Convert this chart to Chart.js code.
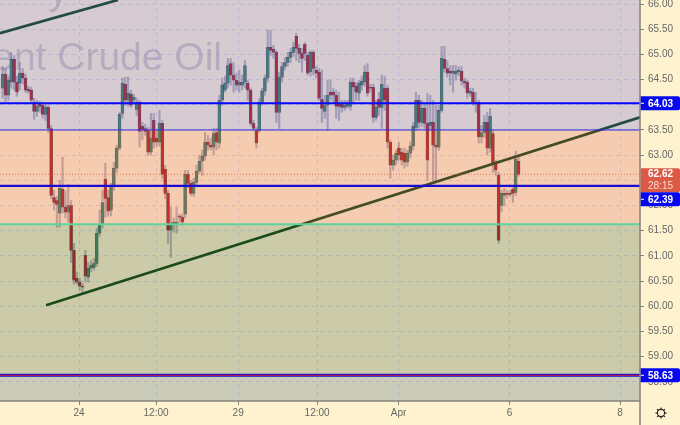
<!DOCTYPE html>
<html><head><meta charset="utf-8">
<style>html,body{margin:0;padding:0;background:#fff3cf;overflow:hidden}canvas{display:block}</style>
<script src="https://cdn.jsdelivr.net/npm/chart.js@4"></script>
</head><body><canvas id="c" width="680" height="425" style="width:680px;height:425px"></canvas>
<script>
const opens=[64.33,64.61,64.19,64.45,64.90,64.45,64.43,64.63,64.53,64.31,64.29,64.05,63.87,64.01,63.99,63.81,63.95,63.53,62.16,62.10,61.85,62.32,61.97,61.87,62.00,61.11,60.56,60.48,60.40,61.01,60.58,60.76,60.77,60.85,61.45,61.63,62.52,62.16,61.91,62.38,62.74,63.14,63.83,64.41,64.09,64.21,64.09,63.91,64.05,63.57,63.53,63.49,63.06,63.69,63.34,63.26,63.63,62.72,62.24,61.51,61.63,61.63,61.79,61.77,61.83,62.62,62.44,62.24,62.46,62.68,62.88,62.98,63.26,63.20,63.16,63.45,63.24,64.09,64.29,64.43,64.82,64.59,64.49,64.39,64.39,64.45,64.43,64.29,63.63,63.49,63.49,64.05,64.27,64.53,65.14,65.10,65.04,63.85,64.55,64.76,64.84,64.94,65.04,65.36,65.12,65.02,65.20,64.98,64.65,65.04,64.69,64.65,64.11,63.87,63.99,64.25,64.25,64.19,64.03,64.01,63.95,63.97,63.97,64.45,64.37,64.23,64.39,64.45,64.65,64.35,64.35,63.75,64.11,63.95,64.33,64.33,63.26,62.80,62.90,63.14,63.06,63.04,62.86,63.04,63.18,63.55,64.09,63.65,63.93,63.63,63.59,63.65,63.20,63.16,63.89,64.90,64.72,64.67,64.63,64.61,64.65,64.67,64.47,64.45,64.23,64.25,64.05,64.05,63.36,63.45,63.65,63.14,63.43,62.84,62.60,62.00,62.20,62.24,62.24,62.32,62.26,62.88];
const highs=[64.76,64.72,64.57,65.04,64.98,64.57,64.84,64.72,64.61,64.37,64.35,64.13,64.09,64.07,64.03,64.03,63.99,63.59,62.30,62.18,62.50,62.96,62.30,62.42,62.10,61.25,60.68,60.56,60.46,61.11,60.87,60.91,60.95,61.55,61.91,62.30,62.84,62.30,62.44,62.86,63.20,63.85,64.53,64.55,64.55,64.29,64.21,64.13,64.09,63.65,63.61,63.55,63.83,63.83,63.49,63.89,63.69,62.80,62.30,61.97,61.75,61.97,61.83,61.83,62.70,62.70,62.50,62.54,62.80,63.00,63.10,63.45,63.39,63.34,63.53,63.53,64.19,64.53,64.57,64.92,64.92,64.84,64.63,64.69,64.59,64.88,64.49,64.33,63.69,63.55,64.13,64.33,64.59,65.48,65.48,65.18,65.08,64.65,64.84,64.94,65.04,65.12,65.24,65.42,65.20,65.12,65.24,65.04,65.08,65.08,64.76,64.72,64.69,64.19,64.49,64.49,64.33,64.29,64.25,64.09,64.09,64.09,64.53,64.53,64.45,64.49,64.57,64.78,64.82,64.41,64.41,64.09,64.25,64.59,64.57,64.39,63.30,63.00,63.10,63.26,63.14,63.14,63.10,63.26,63.65,64.25,64.19,64.09,64.01,64.23,64.19,64.09,63.99,63.99,65.16,65.16,64.88,64.78,64.78,64.78,64.76,64.76,64.53,64.49,64.33,64.33,64.25,64.09,63.59,63.79,63.85,63.93,63.49,62.90,62.66,62.30,62.34,62.30,62.30,62.40,63.08,62.98];
const lows=[64.13,64.05,64.09,64.33,64.29,64.17,64.29,64.41,64.25,64.23,64.05,63.71,63.77,63.85,63.73,63.69,63.45,62.14,61.91,61.57,61.57,61.85,61.75,61.67,60.87,60.44,60.44,60.32,60.26,60.48,60.48,60.68,60.72,60.79,61.39,61.55,61.77,61.79,61.79,62.30,62.66,63.10,63.73,63.99,63.97,63.95,64.01,63.79,63.16,63.30,63.39,63.00,63.00,63.14,63.18,63.18,62.54,62.14,61.25,60.97,61.47,61.45,61.67,61.61,61.75,62.36,62.20,62.18,62.40,62.64,62.60,62.90,63.10,63.10,63.00,63.10,63.14,63.99,64.25,64.33,64.39,64.25,64.29,64.25,64.29,64.33,64.09,63.59,63.49,63.14,63.45,63.99,64.19,64.45,64.98,64.92,63.65,63.53,64.45,64.69,64.76,64.84,64.96,64.88,64.84,64.65,64.88,64.59,64.57,64.59,64.53,64.09,63.65,63.73,63.49,64.09,64.05,63.73,63.69,63.85,63.89,63.93,63.89,64.05,64.09,64.09,64.29,64.37,64.17,64.25,63.65,63.69,63.79,63.53,63.89,63.14,62.54,62.70,62.80,62.90,62.80,62.74,62.78,62.94,63.10,63.49,63.53,63.57,63.53,62.50,63.49,62.50,62.50,63.10,63.85,64.65,64.55,64.39,64.25,64.49,64.57,64.39,64.33,64.13,64.17,63.99,63.85,63.24,63.24,63.34,63.00,63.06,62.66,62.60,61.25,61.87,62.00,62.14,62.18,62.06,62.20,62.58];
const closes=[64.61,64.19,64.49,64.90,64.45,64.25,64.63,64.53,64.29,64.27,64.09,63.87,63.97,63.97,63.81,63.95,63.53,62.20,62.06,62.02,62.34,61.97,61.87,62.00,61.11,60.52,60.48,60.40,60.38,60.60,60.76,60.81,60.85,61.45,61.63,62.06,62.14,61.89,62.38,62.74,63.14,63.81,64.43,64.09,64.23,63.99,64.15,64.05,63.47,63.51,63.47,63.06,63.34,63.26,63.26,63.63,62.62,62.24,61.51,61.65,61.67,61.67,61.77,61.67,62.62,62.44,62.24,62.46,62.68,62.88,62.98,63.26,63.20,63.16,63.43,63.26,64.09,64.39,64.43,64.78,64.59,64.49,64.39,64.45,64.45,64.78,64.29,63.63,63.53,63.24,64.05,64.27,64.53,65.14,65.08,65.04,63.85,64.55,64.76,64.84,64.94,65.04,65.14,65.12,65.02,64.92,65.02,64.63,65.04,64.72,64.63,64.13,63.93,63.99,64.19,64.19,64.19,63.97,63.97,63.95,63.99,64.01,64.45,64.35,64.25,64.43,64.47,64.65,64.23,64.33,63.75,63.95,63.95,64.41,64.09,63.26,62.80,62.90,63.04,63.00,62.90,62.86,63.04,63.18,63.57,64.09,63.65,63.93,63.63,62.90,63.65,63.20,63.16,63.89,64.92,64.72,64.63,64.63,64.67,64.67,64.69,64.47,64.43,64.23,64.27,64.05,64.03,63.36,63.45,63.65,63.14,63.77,62.84,62.70,61.31,62.24,62.24,62.22,62.22,62.24,62.92,62.62];

const priceTicks=[66,65.5,65,64.5,64,63.5,63,62.5,62,61.5,61,60.5,60,59.5,59,58.5];
const timeLabels=['24','12:00','29','12:00','Apr','6','8'];
const timePositions=[26.8,53.8,82.6,110.3,138.9,177.8,216.6];
const priceMin=58.12, priceMax=66.08, indexMin=-0.95, indexMax=223.6;
const bandEdges=[66.08,63.5,61.63,58.63,58.12];
const bandColors=['rgba(118,113,215,.3)','rgba(225,116,108,.3)','rgba(85,113,82,.3)','rgba(83,113,138,.3)'];
const lastPrice=62.62, countdown='28:15';
const blueLevels=[64.03,62.39,58.63];
const trendA=[[15.2,60.02],[223.6,63.75]];
const trendB=[[-0.95,65.42],[40.45,66.08]];
const mainFont='"Liberation Sans"';

const xy=(v)=>[{x:indexMin,y:v},{x:indexMax,y:v}];
const hline=(v,color,w,order,dash)=>({type:'line',data:xy(v),borderColor:color,borderWidth:w,borderDash:dash||[],pointRadius:0,order,fill:false});
const seg=(p,color,w)=>({type:'line',data:p.map(a=>({x:a[0],y:a[1]})),borderColor:color,borderWidth:w,pointRadius:0,order:7,fill:false,clip:true});
const up=opens.map((o,i)=>closes[i]>=o);

const datasets=[];
bandColors.forEach((col,i)=>datasets.push({type:'line',data:xy(bandEdges[i]),borderWidth:0,pointRadius:0,backgroundColor:col,fill:{value:bandEdges[i+1]},order:6}));
datasets.push(seg(trendA,'#003c00',2.8),seg(trendB,'#003c00',2.8));
datasets.push({type:'bar',grouped:false,order:8,barThickness:1.5,
  data:opens.map((o,i)=>({x:i,y:[lows[i],highs[i]]})),
  backgroundColor:'rgba(80,80,115,.42)'});
datasets.push({type:'bar',grouped:false,order:7.5,barThickness:3,borderSkipped:false,borderWidth:.6,
  borderColor:'rgba(25,20,25,.7)',
  data:opens.map((o,i)=>({x:i,y:[o,closes[i]]})),
  backgroundColor:up.map(u=>u?'#2f8058':'#b3140c')});
datasets.push(hline(64.03,'#0808f8',2,2));
datasets.push(hline(63.5,'#2a2ae6',1,2));
datasets.push(hline(62.39,'#1a0cd2',2.4,2));
datasets.push(hline(61.63,'#5fd39a',2,2));
datasets.push(hline(lastPrice,'rgba(232,90,70,.85)',1,3,[1,2]));
datasets.push(hline(58.63,'#1010d8',3,2));
datasets.push(hline(58.63,'#c81e3c',1,1));

const decor={id:'decor',
  beforeDatasetsDraw(ch){
    const g=ch.ctx;g.save();
    g.fillStyle='rgba(115,112,125,.34)';g.textBaseline='alphabetic';g.textAlign='right';
    g.font='39px "Liberation Sans"';
    g.fillText('Brent Crude Oil',222,70);
    g.fillText('y',68,4);
    g.restore();
  },
  afterDraw(ch){
    const g=ch.ctx,y=ch.scales.y;g.save();
    g.strokeStyle='#85857c';g.lineWidth=1.5;
    g.beginPath();g.moveTo(640,0);g.lineTo(640,425);g.moveTo(0,401);g.lineTo(640,401);g.stroke();
    const box=(cy,h,color)=>{g.fillStyle=color;g.beginPath();g.roundRect(640.7,cy-h/2,39.3,h,[0,2,2,0]);g.fill();};
    g.textBaseline='middle';g.textAlign='left';
    const py=y.getPixelForValue(lastPrice);
    box(py+6,24,'#db5a45');
    g.fillStyle='#fff';g.font='bold 10px '+mainFont;g.fillText(lastPrice.toFixed(2),648,py);
    g.fillStyle='#ffd9d0';g.font='10px '+mainFont;g.fillText(countdown,648,py+12);
    blueLevels.forEach(v=>{
      let cy=y.getPixelForValue(v);
      if(Math.abs(v-lastPrice)<.5) cy=py+25;
      box(cy,14,'#0808f0');
      g.strokeStyle='#fff';g.lineWidth=1;g.beginPath();g.moveTo(641,cy);g.lineTo(644,cy);g.stroke();
      g.fillStyle='#fff';g.font='bold 10px '+mainFont;g.fillText(v.toFixed(2),648,cy+.5);
    });
    const cx=661,cy=413;
    g.strokeStyle='#222';g.lineWidth=1.1;g.beginPath();g.arc(cx,cy,3.6,0,Math.PI*2);g.stroke();
    for(let k=0;k<8;k++){const a=k*Math.PI/4;g.beginPath();g.moveTo(cx+Math.cos(a)*3.6,cy+Math.sin(a)*3.6);g.lineTo(cx+Math.cos(a)*5.6,cy+Math.sin(a)*5.6);g.stroke();}
    g.restore();
  }};

new Chart(document.getElementById('c'),{
  type:'bar',
  data:{datasets},
  plugins:[decor],
  options:{
    responsive:false,animation:false,
    layout:{padding:0},
    plugins:{legend:{display:false},tooltip:{enabled:false}},
    scales:{
      x:{type:'linear',position:'bottom',min:indexMin,max:indexMax,offset:false,
        afterBuildTicks(s){s.ticks=timePositions.map(v=>({value:v}));},
        afterFit(s){s.height=24;s.paddingLeft=0;s.paddingRight=0;},
        grid:{offset:false,color:'rgba(140,140,225,.3)',tickColor:'#85857c',tickLength:4},
        border:{display:false,dash:[4,4]},
        ticks:{autoSkip:false,maxRotation:0,padding:2,color:'#666',font:{family:'"Liberation Sans"',size:10},
          callback(v){const i=timePositions.indexOf(v);return i<0?'':timeLabels[i];}}},
      y:{type:'linear',position:'right',min:priceMin,max:priceMax,
        afterBuildTicks(s){s.ticks=priceTicks.map(v=>({value:v}));},
        afterFit(s){s.width=40;s.paddingTop=0;s.paddingBottom=0;},
        grid:{color:'rgba(140,140,225,.3)',tickColor:'#85857c',tickLength:4},
        border:{display:false,dash:[4,4]},
        ticks:{autoSkip:false,padding:4,color:'#666',font:{family:'"Liberation Sans"',size:10},
          callback(v){return Number(v).toFixed(2);}}}
    }
  }
});
</script></body></html>
